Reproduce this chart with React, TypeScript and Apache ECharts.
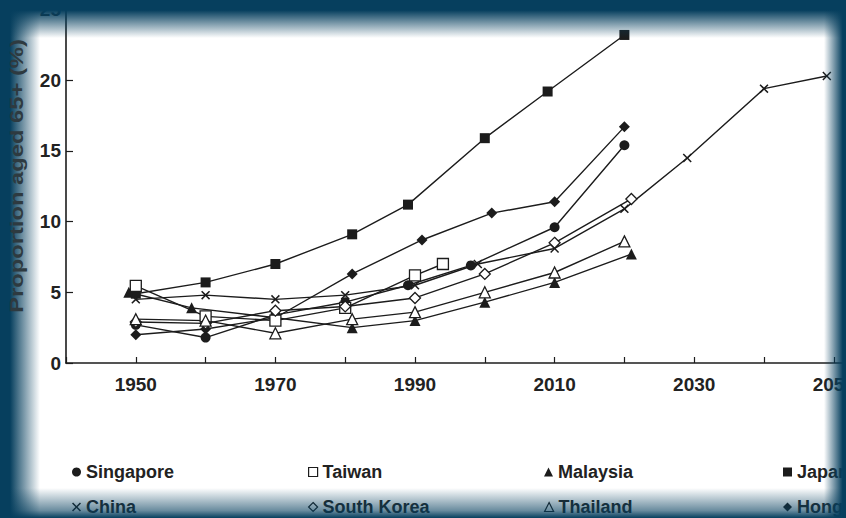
import React, { useEffect, useRef } from "react";
import * as echarts from "echarts";

// ---- data (year, % aged 65+) ----
const singapore = [[1950, 2.7], [1960, 1.8], [1970, 3.4], [1980, 4.3], [1989, 5.5], [1998, 6.9], [2010, 9.6], [2020, 15.4]];
const taiwan = [[1950, 5.45], [1960, 3.3], [1970, 3.0], [1980, 3.9], [1990, 6.2], [1994, 7.0]];
const malaysia = [[1949, 5.0], [1958, 3.9], [1970, 3.2], [1981, 2.5], [1990, 3.0], [2000, 4.3], [2010, 5.7], [2021, 7.7]];
const japan = [[1950, 4.9], [1960, 5.7], [1970, 7.0], [1981, 9.1], [1989, 11.2], [2000, 15.9], [2009, 19.2], [2020, 23.2]];
const china = [[1950, 4.5], [1960, 4.8], [1970, 4.5], [1980, 4.8], [1990, 5.5], [1999, 7.0], [2010, 8.1], [2020, 10.9], [2029, 14.5], [2040, 19.4], [2049, 20.3]];
const southKorea = [[1950, 2.9], [1960, 2.8], [1970, 3.7], [1980, 4.0], [1990, 4.6], [2000, 6.3], [2010, 8.5], [2021, 11.6]];
const thailand = [[1950, 3.1], [1960, 3.0], [1970, 2.1], [1981, 3.1], [1990, 3.6], [2000, 5.0], [2010, 6.4], [2020, 8.6]];
const hongKong = [[1950, 2.0], [1960, 2.4], [1970, 3.2], [1981, 6.3], [1991, 8.7], [2001, 10.6], [2010, 11.4], [2020, 16.7]];

const seriesNames = ["Singapore", "Taiwan", "Malaysia", "Japan", "China", "South Korea", "Thailand", "Hong Kong"];
const seriesData = [singapore, taiwan, malaysia, japan, china, southKorea, thailand, hongKong];

const xMin = 1940;
const xMax = 2060;
const xInterval = 10;
const yMin = 0;
const yMax = 25;
const yInterval = 5;
const yAxisTitle = "Proportion aged 65+ (%)";

// ---- styles ----
const INK = "#1c1c1c";
const FRAME = "#063f5e";
const CROSS = "path://M0,1.2 L1.2,0 L5,3.8 L8.8,0 L10,1.2 L6.2,5 L10,8.8 L8.8,10 L5,6.2 L1.2,10 L0,8.8 L3.8,5 Z";
const markers: Record<string, { symbol: string; hollow: boolean; size: number }> = {
  Singapore: { symbol: "circle", hollow: false, size: 10 },
  Taiwan: { symbol: "rect", hollow: true, size: 11 },
  Malaysia: { symbol: "triangle", hollow: false, size: 11 },
  Japan: { symbol: "rect", hollow: false, size: 10 },
  China: { symbol: CROSS, hollow: false, size: 9 },
  "South Korea": { symbol: "diamond", hollow: true, size: 11 },
  Thailand: { symbol: "triangle", hollow: true, size: 11 },
  "Hong Kong": { symbol: "diamond", hollow: false, size: 11 },
};
const legendCols = [67, 303, 539, 778];
const legendRows = [458, 493];
const FONT = "Liberation Sans";

export default function App() {
  const ref = useRef<HTMLDivElement>(null);
  useEffect(() => {
    if (!ref.current) return;
    const chart = echarts.init(ref.current, null, { renderer: "svg" });

    const series = seriesNames.map((name, i) => {
      const m = markers[name];
      return {
        name,
        type: "line",
        data: seriesData[i],
        symbol: m.symbol,
        symbolSize: m.size,
        showAllSymbol: true,
        lineStyle: { color: INK, width: 1.4 },
        itemStyle: m.hollow
          ? { color: "#ffffff", borderColor: INK, borderWidth: 1.3 }
          : { color: INK, borderColor: INK, borderWidth: 0 },
        emphasis: { disabled: true },
        z: m.hollow ? 3 : 2,
      };
    });

    const legends = seriesNames.map((name, i) => {
      const m = markers[name];
      return {
        left: legendCols[i % 4],
        top: legendRows[Math.floor(i / 4)],
        itemWidth: 9,
        itemHeight: 9,
        selectedMode: false,
        textStyle: { fontFamily: FONT, fontSize: 18, fontWeight: "bold", color: "#222" },
        data: [
          {
            name,
            icon: m.symbol,
            itemStyle: m.hollow
              ? { color: "#ffffff", borderColor: INK, borderWidth: 1.2 }
              : { color: INK, borderWidth: 0 },
          },
        ],
      };
    });

    const fade = (x: number, y: number, x2: number, y2: number, stops: [number, number][]) => ({
      type: "linear",
      x,
      y,
      x2,
      y2,
      colorStops: stops.map(([o, a]) => ({ offset: o, color: `rgba(6,63,94,${a})` })),
    });

    chart.setOption({
      animation: false,
      backgroundColor: "#ffffff",
      textStyle: { fontFamily: FONT },
      grid: { left: 66, right: 16.4, top: 5.5, bottom: 155, containLabel: false },
      xAxis: {
        type: "value",
        min: xMin,
        max: xMax,
        interval: xInterval,
        axisLine: { lineStyle: { color: INK, width: 1.6 } },
        axisTick: { inside: true, length: 6, lineStyle: { color: INK, width: 1.2 } },
        splitLine: { show: false },
        axisLabel: {
          margin: 12,
          fontFamily: FONT,
          fontSize: 19,
          fontWeight: "bold",
          color: "#222",
          formatter: (v: number) => ((v - 1950) % 20 === 0 && v <= 2050 ? String(v) : ""),
        },
      },
      yAxis: {
        type: "value",
        min: yMin,
        max: yMax,
        interval: yInterval,
        axisLine: { show: true, lineStyle: { color: INK, width: 1.6 } },
        axisTick: { show: true, inside: true, length: 7, lineStyle: { color: INK, width: 1.2 } },
        splitLine: { show: false },
        axisLabel: { margin: 5, fontFamily: FONT, fontSize: 19, fontWeight: "bold", color: "#222" },
      },
      legend: legends,
      series,
      graphic: [
        { type: "rect", z: 100, silent: true, shape: { x: 0, y: 0, width: 40, height: 518 }, style: { fill: fade(0, 0, 1, 0, [[0, 1], [0.25, 1], [1, 0]]) } },
        { type: "rect", z: 100, silent: true, shape: { x: 0, y: 0, width: 920, height: 38 }, style: { fill: fade(0, 0, 0, 1, [[0, 1], [0.27, 1], [1, 0]]) } },
        { type: "rect", z: 100, silent: true, shape: { x: 0, y: 488, width: 920, height: 30 }, style: { fill: fade(0, 0, 0, 1, [[0, 0], [0.75, 0.6], [1, 1]]) } },
        { type: "rect", z: 100, silent: true, shape: { x: 824, y: 0, width: 22, height: 518 }, style: { fill: fade(0, 0, 1, 0, [[0, 0], [0.85, 1], [1, 1]]) } },
        { type: "rect", z: 100, silent: true, shape: { x: 846, y: 0, width: 80, height: 518 }, style: { fill: "rgba(6,63,94,1)" } },
        {
          type: "text",
          z: 200,
          silent: true,
          x: 17,
          y: 176,
          rotation: Math.PI / 2,
          scaleX: 1.25,
          style: {
            text: yAxisTitle,
            fontFamily: FONT,
            fontSize: 19,
            fontWeight: "bold",
            fill: "#2e3a40",
            align: "center",
            verticalAlign: "middle",
          },
        },
      ],
    });
    return () => chart.dispose();
  }, []);

  return (
    <div style={{ position: "fixed", left: 0, top: 0, width: 846, height: 518, overflow: "hidden", background: FRAME }}>
      <div ref={ref} style={{ width: 920, height: 518 }} />
    </div>
  );
}
